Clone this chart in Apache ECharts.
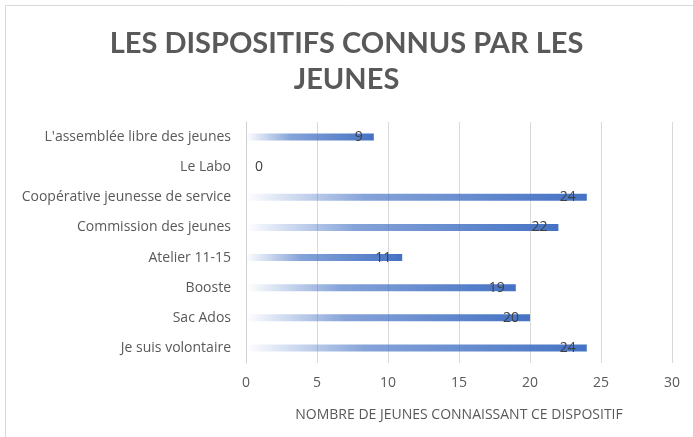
<!DOCTYPE html>
<html>
<head>
<meta charset="utf-8">
<script src="https://cdn.jsdelivr.net/npm/echarts@6/dist/echarts.min.js"></script>
<style>
  html, body { margin: 0; padding: 0; background: #fff; }
  #chart { width: 693px; height: 437px; }
</style>
</head>
<body>
<div id="chart"></div>
<script>
// categories from bottom to top (ECharts category axis starts at the bottom)
const categories = [
  'Je suis volontaire',
  'Sac Ados',
  'Booste',
  'Atelier 11-15',
  'Commission des jeunes',
  'Coopérative jeunesse de service',
  'Le Labo',
  "L'assemblée libre des jeunes"
]
const values = [24, 20, 19, 11, 22, 24, 0, 9]
const xTicks = [0, 5, 10, 15, 20, 25, 30]

const blue = '#4472C4'
const el = document.getElementById('chart')
const chart = echarts.init(el)

const option = {
  animation: false,
  graphic: [
    {
      type: 'rect',
      shape: { x: 5.5, y: 5.5, width: 700, height: 450 },
      style: { fill: 'none', stroke: '#d9d9d9', lineWidth: 1 },
      silent: true
    }
  ],
  title: {
    text: 'LES DISPOSITIFS CONNUS PAR LES\nJEUNES',
    left: 'center',
    top: 21,
    textStyle: {
      fontFamily: 'Lato',
      fontWeight: 'bold',
      fontSize: 29,
      lineHeight: 36,
      color: '#595959'
    }
  },
  grid: {
    left: 246,
    right: 21,
    top: 122,
    bottom: 74
  },
  xAxis: {
    type: 'value',
    min: xTicks[0],
    max: xTicks[xTicks.length - 1],
    interval: 5,
    name: 'NOMBRE DE JEUNES CONNAISSANT CE DISPOSITIF',
    nameLocation: 'middle',
    nameGap: 45,
    nameTextStyle: {
      fontFamily: 'Open Sans',
      fontSize: 14,
      color: '#595959'
    },
    axisLine: { show: false },
    axisTick: { show: false },
    axisLabel: {
      margin: 13,
      fontFamily: 'Open Sans',
      fontSize: 14,
      color: '#595959'
    },
    splitLine: { lineStyle: { color: '#d9d9d9', width: 1 } }
  },
  yAxis: {
    type: 'category',
    data: categories,
    axisLine: { show: true, lineStyle: { color: '#d0d0d0' } },
    axisTick: { show: false },
    axisLabel: {
      margin: 15,
      fontFamily: 'Open Sans',
      fontSize: 14,
      color: '#595959'
    }
  },
  series: [
    {
      type: 'bar',
      barWidth: 7,
      data: values.map(v => v === 0
        ? { value: v, label: { position: 'right', distance: 9 } }
        : v),
      itemStyle: {
        color: new echarts.graphic.LinearGradient(0, 0, 1, 0, [
          { offset: 0, color: 'rgba(68,114,196,0)' },
          { offset: 0.35, color: 'rgba(68,114,196,0.65)' },
          { offset: 1, color: blue }
        ])
      },
      label: {
        show: true,
        position: 'insideRight',
        distance: 11,
        fontFamily: 'Open Sans',
        fontSize: 14,
        color: '#404040'
      }
    }
  ]
}
chart.setOption(option)
</script>
</body>
</html>
